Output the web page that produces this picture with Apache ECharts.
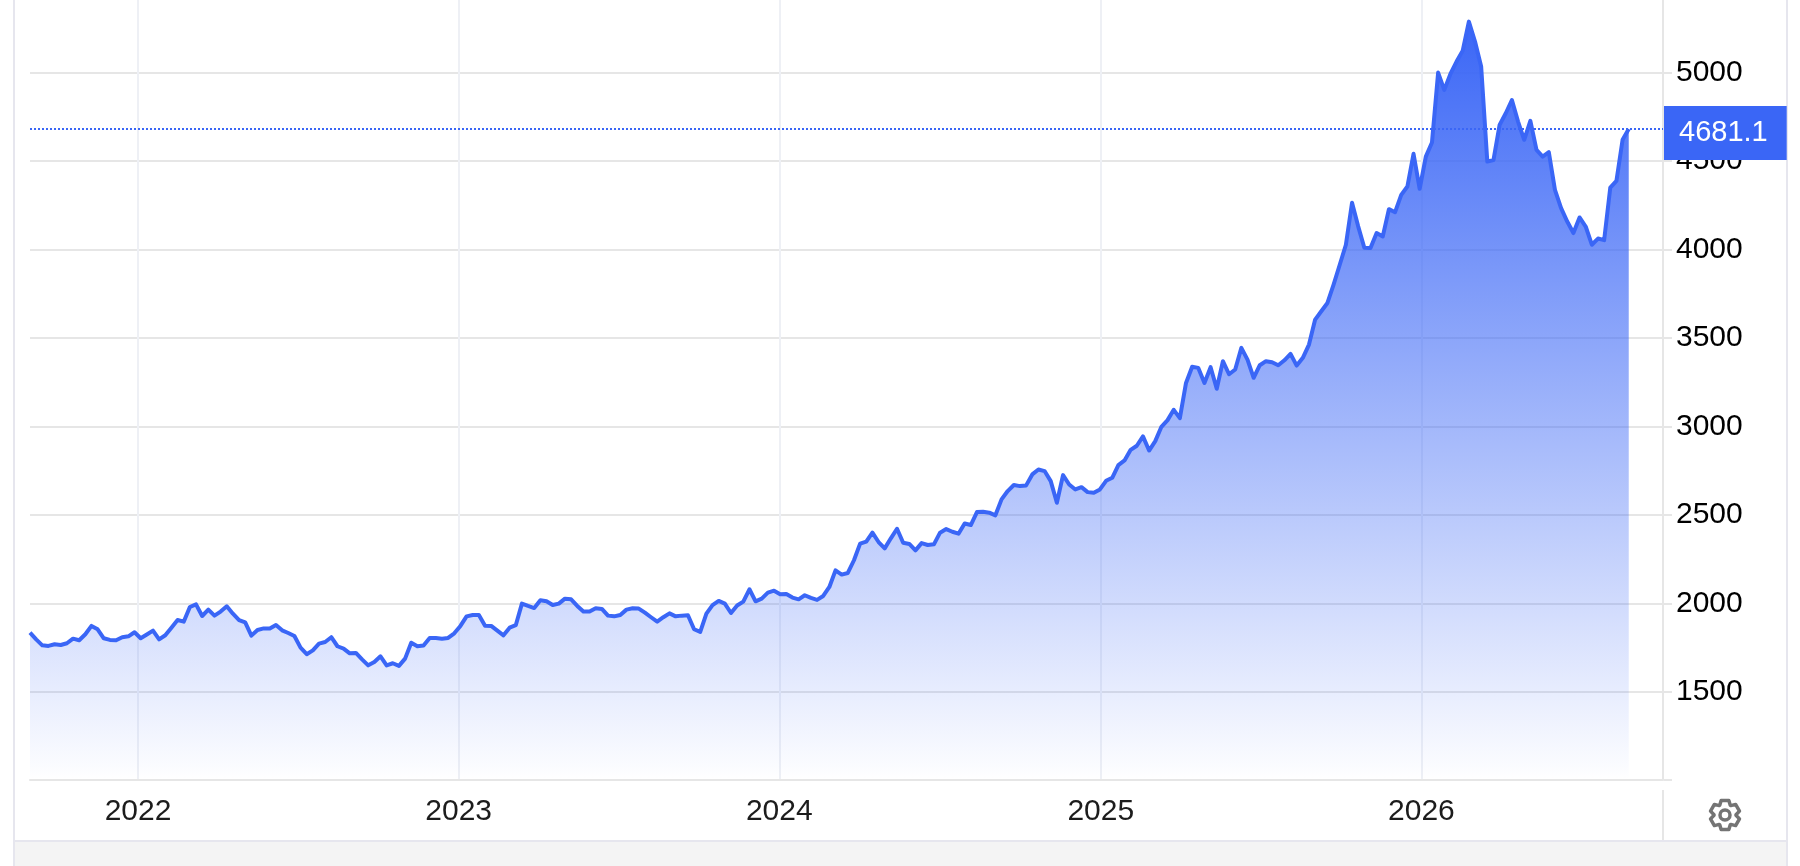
<!DOCTYPE html>
<html>
<head>
<meta charset="utf-8">
<style>html,body{margin:0;padding:0;background:#fff}#c{width:1800px;height:866px}</style>
<script src="https://cdn.jsdelivr.net/npm/echarts@6/dist/echarts.min.js"></script>
</head>
<body>
<div id="c"></div>
<script>
const firstWeek = '2021-08-31';
const lastValue = 4681.1;
const yearTicks = ['2022-01-01', '2023-01-01', '2024-01-01', '2025-01-01', '2026-01-01'];
const yTicks = [1500, 2000, 2500, 3000, 3500, 4000, 4500, 5000];
const values2021 = [1835,1797,1763,1760,1769,1765,1775,1801,1792,1826,1873,1854,1803,1794,1792,1809,1814,1837];
const values2022 = [1803,1824,1846,1797,1820,1863,1906,1897,1980,1995,1929,1965,1931,1954,1984,1942,1906,1893,1818,1850,1859,1858,1878,1848,1833,1816,1750,1713,1735,1773,1782,1809,1758,1745,1718,1720,1684,1650,1669,1701,1650,1662,1647,1688,1778,1758,1762,1805,1805,1801,1805,1831];
const values2023 = [1873,1927,1935,1935,1874,1873,1846,1820,1863,1877,1999,1986,1974,2018,2012,1991,1999,2027,2023,1986,1954,1954,1973,1969,1931,1927,1935,1965,1973,1971,1948,1922,1897,1922,1944,1927,1931,1933,1854,1839,1942,1990,2014,1999,1946,1988,2010,2080,2012,2027,2061,2072];
const values2024 = [2052,2053,2033,2023,2046,2031,2020,2042,2093,2187,2163,2172,2244,2338,2349,2400,2347,2311,2368,2422,2343,2336,2300,2341,2330,2334,2400,2420,2405,2394,2452,2443,2516,2518,2513,2498,2588,2635,2669,2663,2667,2729,2757,2748,2691,2569,2725,2672,2644,2657,2629,2625,2644];
const values2025 = [2693,2710,2782,2808,2868,2891,2944,2864,2917,2998,3036,3094,3047,3246,3337,3331,3246,3335,3213,3369,3295,3322,3444,3378,3275,3346,3369,3363,3346,3374,3410,3344,3388,3463,3604,3651,3698,3802,3914,4027,4264,4131,4010,4008,4093,4074,4228,4211,4309,4356,4541,4343];
const values2026 = [4525,4605,5000,4902,4992,5062,5124,5288,5175,5034,4497,4505,4704,4770,4845,4723,4620,4727,4563,4525,4550,4337,4234,4158,4093,4181,4130,4027,4062,4053,4350,4388,4620,4681.1];

const DAY = 86400000, BLUE = '#3a66f6';
const allValues = [].concat(values2021, values2022, values2023, values2024, values2025, values2026);
const t0 = Date.parse(firstWeek + 'T00:00:00Z');
const seriesData = allValues.map((v, i) => [t0 + i * 7 * DAY, v]);
const yearStamps = yearTicks.map(d => Date.parse(d + 'T00:00:00Z'));

// gear outline
function gearPoints(cx, cy, rOut, rIn) {
  const out = [];
  for (let i = 0; i < 6; i++) {
    const a = i * Math.PI / 3 - Math.PI / 2;
    [[rIn, -0.5], [rOut, -0.26], [rOut, 0.26], [rIn, 0.5]].forEach(p => {
      out.push([cx + p[0] * Math.cos(a + p[1]), cy + p[0] * Math.sin(a + p[1])]);
    });
  }
  return out;
}

const chart = echarts.init(document.getElementById('c'), null, {renderer: 'canvas'});
chart.setOption({
  animation: false,
  backgroundColor: '#fff',
  textStyle: {fontFamily: '"Liberation Sans", Arial, sans-serif'},
  grid: {left: 30, right: 137, top: 0, height: 779.5, containLabel: false},
  xAxis: {
    type: 'value',
    scale: true,
    min: t0,
    max: Date.parse('2026-10-03T00:00:00Z'),
    axisLine: {show: true, onZero: false, lineStyle: {color: '#e6e6e6', width: 2}},
    axisTick: {show: false, customValues: yearStamps},
    axisLabel: {
      customValues: yearStamps, margin: 17, fontSize: 30, color: '#1c1c1c',
      hideOverlap: false, showMinLabel: true, showMaxLabel: true,
      formatter: v => String(new Date(v).getUTCFullYear())
    },
    splitLine: {show: true, showMinLine: true, showMaxLine: true, lineStyle: {color: '#eef0f5', width: 2}}
  },
  yAxis: {
    type: 'value',
    position: 'right',
    scale: true,
    min: 1005,
    max: 5410,
    axisLine: {show: true, onZero: false, lineStyle: {color: '#e6e6e6', width: 2}},
    axisTick: {show: true, length: 9, inside: false, customValues: yTicks, lineStyle: {color: '#e6e6e6', width: 2}},
    axisLabel: {customValues: yTicks, margin: 13, fontSize: 30, color: '#000', verticalAlign: 'middle', padding: [0, 0, 9, 0],
      formatter: v => String(v)},
    splitLine: {show: true, showMinLine: true, showMaxLine: true, lineStyle: {color: '#e6e6e6', width: 2}}
  },
  series: [{
    type: 'line',
    data: seriesData,
    showSymbol: false,
    symbol: 'none',
    smooth: false,
    clip: true,
    lineStyle: {color: BLUE, width: 4, join: 'round'},
    areaStyle: {
      origin: 'start',
      opacity: 1,
      color: {type: 'linear', x: 0, y: 0, x2: 0, y2: 1, colorStops: [
        {offset: 0, color: 'rgba(58,102,246,1)'},
        {offset: 0.985, color: 'rgba(58,102,246,0.02)'},
        {offset: 1, color: 'rgba(58,102,246,0)'}
      ]}
    },
    markLine: {
      silent: true,
      symbol: 'none',
      animation: false,
      lineStyle: {color: BLUE, width: 2, type: 'dotted'},
      label: {
        show: true, position: 'end', distance: 1, formatter: String(lastValue),
        color: '#fff', fontSize: 29, backgroundColor: BLUE,
        padding: [14, 19, 0, 15], lineHeight: 40, offset: [0, 4]
      },
      data: [{yAxis: lastValue}]
    }
  }],
  graphic: [
    {type: 'rect', silent: true, z: -1, shape: {x: 13, y: 0, width: 2, height: 866}, style: {fill: '#e6e6ee'}},
    {type: 'rect', silent: true, z: -1, shape: {x: 1786, y: 0, width: 2, height: 866}, style: {fill: '#e6e6ee'}},
    {type: 'rect', silent: true, z: 5, shape: {x: 15, y: 842, width: 1771, height: 24}, style: {fill: '#f4f4f4'}},
    {type: 'rect', silent: true, z: 5, shape: {x: 15, y: 840, width: 1771, height: 2}, style: {fill: '#e6e6ee'}},
    {type: 'rect', silent: true, z: 5, shape: {x: 1662, y: 790, width: 2, height: 50}, style: {fill: '#e6e6e6'}},
    {type: 'rect', silent: true, z: 5, shape: {x: 1664, y: 779, width: 8, height: 2}, style: {fill: '#e6e6e6'}},
    {type: 'polygon', silent: true, z: 5, shape: {points: gearPoints(1725, 815, 15, 11)},
      style: {fill: 'none', stroke: '#747474', lineWidth: 3.5, lineJoin: 'round'}},
    {type: 'circle', silent: true, z: 5, shape: {cx: 1725, cy: 815, r: 5}, style: {fill: 'none', stroke: '#747474', lineWidth: 3.5}}
  ]
});
</script>
</body>
</html>
